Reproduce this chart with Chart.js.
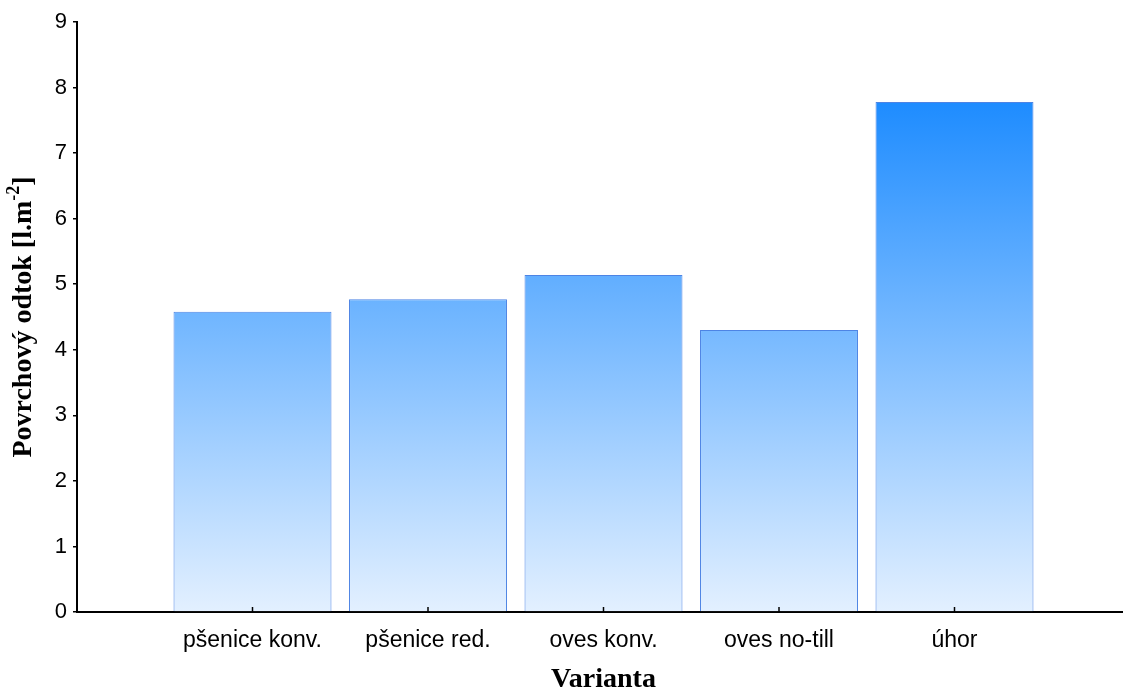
<!DOCTYPE html>
<html>
<head>
<meta charset="utf-8">
<script src="https://cdn.jsdelivr.net/npm/chart.js@4"></script>
<style>
  html, body { margin:0; padding:0; background:#fff; overflow:hidden; }
  #chart { display:block; }
</style>
</head>
<body>
<canvas id="chart" width="1137" height="688"></canvas>
<script>
// --- DATA ---
const categories = ['pšenice konv.', 'pšenice red.', 'oves konv.', 'oves no-till', 'úhor'];
const runoff = [4.58, 4.77, 5.14, 4.30, 7.78];
const yTicks = [0, 1, 2, 3, 4, 5, 6, 7, 8, 9];

const xTitle = 'Varianta';
const yTitle = 'Povrchový odtok [l.m';
const yTitleSup = '-2';
const yTitleEnd = ']';

// empty slot on each side of the categories
const axisLabels = ['', ...categories, ''];
const axisValues = [null, ...runoff, null];

// --- GRADIENT (light at 0, dark at the top bar) ---
function barFill(context) {
    const chart = context.chart;
    const { ctx, chartArea, scales } = chart;
    if (!chartArea) return '#8cc4fa';
    const y0 = scales.y.getPixelForValue(0);
    const y1 = scales.y.getPixelForValue(Math.max(...runoff));
    const g = ctx.createLinearGradient(0, y0, 0, y1);
    g.addColorStop(0, '#e3f0ff');
    g.addColorStop(1, '#1e8cff');
    return g;
}

// --- PLUGIN: inner x ticks + axis titles ---
const extras = {
    id: 'extras',
    afterDraw(chart) {
        const { ctx, chartArea, scales } = chart;
        ctx.save();

        // small tick marks pointing up on the x axis
        ctx.strokeStyle = '#000';
        ctx.lineWidth = 1.5;
        categories.forEach((c, i) => {
            const x = scales.x.getPixelForValue(i + 1);
            ctx.beginPath();
            ctx.moveTo(x, chartArea.bottom);
            ctx.lineTo(x, chartArea.bottom - 5);
            ctx.stroke();
        });

        // x title
        ctx.fillStyle = '#000';
        ctx.font = 'bold 28px "Liberation Serif"';
        ctx.textAlign = 'center';
        ctx.textBaseline = 'alphabetic';
        ctx.fillText(xTitle, scales.x.getPixelForValue(3), 687);

        // y title with superscript
        const big = 'bold 28px "Liberation Serif"';
        const small = 'bold 18px "Liberation Serif"';
        ctx.font = big;
        const w1 = ctx.measureText(yTitle).width;
        const w3 = ctx.measureText(yTitleEnd).width;
        ctx.font = small;
        const w2 = ctx.measureText(yTitleSup).width;
        const total = w1 + w2 + w3;
        ctx.translate(31, (chartArea.top + chartArea.bottom) / 2);
        ctx.rotate(-Math.PI / 2);
        ctx.textAlign = 'left';
        let x = -total / 2;
        ctx.font = big;
        ctx.fillText(yTitle, x, 0);
        x += w1;
        ctx.font = small;
        ctx.fillText(yTitleSup, x, -12);
        x += w2;
        ctx.font = big;
        ctx.fillText(yTitleEnd, x, 0);

        ctx.restore();
    }
};

// --- CHART ---
new Chart(document.getElementById('chart'), {
    type: 'bar',
    data: {
        labels: axisLabels,
        datasets: [{
            data: axisValues,
            backgroundColor: barFill,
            borderColor: '#4d84e4',
            borderWidth: 1,
            categoryPercentage: 0.9,
            barPercentage: 1
        }]
    },
    options: {
        responsive: false,
        animation: false,
        layout: { padding: { top: 22, right: 0, left: 0, bottom: 0 } },
        plugins: { legend: { display: false }, tooltip: { enabled: false } },
        scales: {
            x: {
                offset: false,
                afterFit: (s) => { s.height = 76; },
                grid: { display: false },
                border: { display: true, color: '#000', width: 2 },
                ticks: {
                    color: '#000', padding: 7, maxRotation: 0, autoSkip: false,
                    font: { family: '"Liberation Sans"', size: 23 }
                }
            },
            y: {
                min: yTicks[0], max: yTicks[yTicks.length - 1],
                afterFit: (s) => { s.width = 77; },
                afterBuildTicks: (s) => { s.ticks = yTicks.map(v => ({ value: v })); },
                grid: { drawOnChartArea: false, drawTicks: true, tickLength: 4, color: '#000', lineWidth: 1.5 },
                border: { display: true, color: '#000', width: 2 },
                ticks: {
                    color: '#000', padding: 6,
                    font: { family: '"Liberation Sans"', size: 22 }
                }
            }
        }
    },
    plugins: [extras]
});
</script>
</body>
</html>
